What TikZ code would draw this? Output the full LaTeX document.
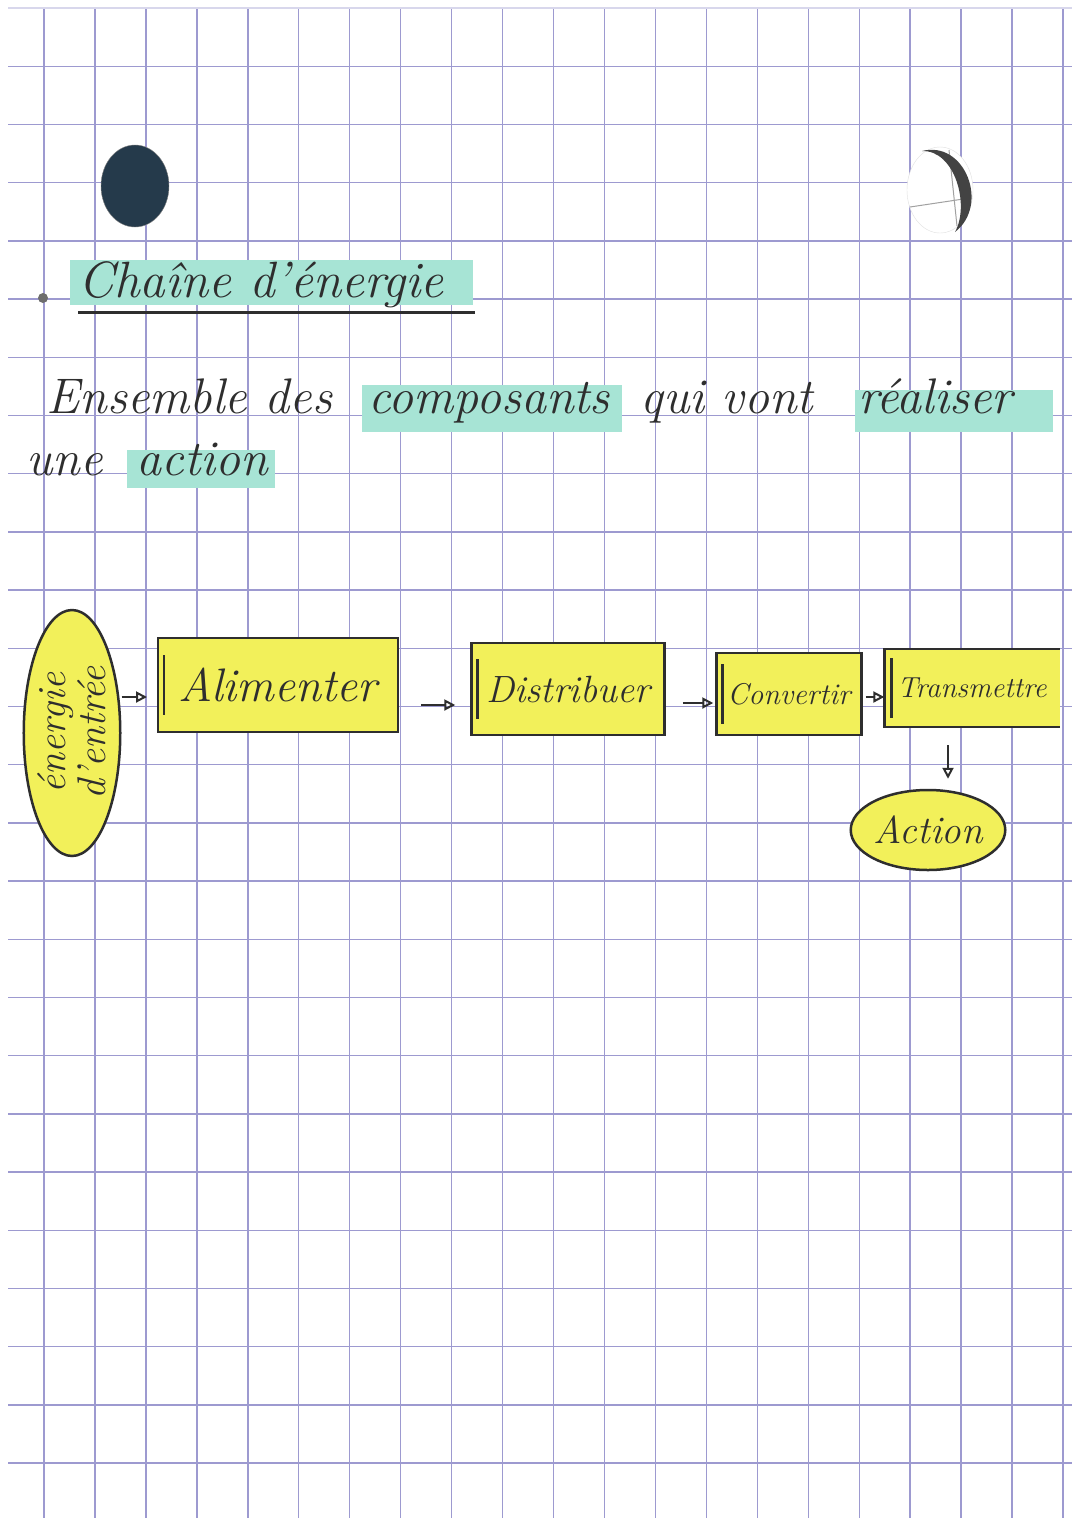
\documentclass[tikz,border=0pt]{standalone}
\usepackage{fontspec}
\usetikzlibrary{arrows.meta,shapes.geometric}
\definecolor{encre}{HTML}{2E2E2E}
\definecolor{quadrillage}{HTML}{9D9AD0}
\definecolor{surligneur}{HTML}{A7E4D5}
\definecolor{fluo}{HTML}{F2F05A}
\definecolor{trou}{HTML}{253A4B}
\newcommand{\taille}[1]{\fontsize{#1}{#1}\selectfont\itshape}

\begin{document}
\begin{tikzpicture}[x=1pt, y=-1pt,
    trait/.style={draw=encre, line width=2.5pt},
    fonction/.style={rectangle, fill=fluo, draw=encre, line width=2.5pt, inner sep=0pt, text=encre},
    bulle/.style={ellipse, fill=fluo, draw=encre, line width=2.5pt, inner sep=0pt, text=encre},
    fleche/.style={encre, line width=2.5pt, -{Triangle[open, length=11pt, width=11pt, line width=2pt]}},
    ecrit/.style={anchor=base west, text=encre, font=\taille{50}},
    grille/.style={quadrillage, line width=1.4pt}]
    % page of squared paper
    \useasboundingbox (0,0) rectangle (1080,1527);
    \fill[white] (0,0) rectangle (1080,1527);
    \foreach \i in {0,...,20}
        \draw[grille] (44+50.95*\i, 8) -- (44+50.95*\i, 1518);
    \foreach \j in {1,...,25}
        \draw[grille] (8, 8+58.2*\j) -- (1072, 8+58.2*\j);
    \draw[quadrillage!40, line width=1.2pt] (8,8) -- (1072,8);

    % punched holes
    \filldraw[fill=trou, draw=encre!60] (135,186) ellipse (34 and 41);
    \filldraw[fill=white, draw=encre!15] (940,190) ellipse (33 and 43);
    \draw[encre!45, line width=1pt] (910,207) -- (970,198);
    \draw[encre!45, line width=1pt] (949,150) -- (957,226);
    \fill[encre!90] (922,151) .. controls (965,140) and (990,205) .. (955,232)
        .. controls (970,205) and (955,150) .. (922,151) -- cycle;

    % title
    \fill[encre!70] (43,298) circle (5);
    \fill[surligneur] (70,260) rectangle (473,305);
    \node[ecrit, font=\taille{51}] (titre) at (75,297) {Chaîne d'énergie};
    \draw[encre, line width=3pt] (78,312) -- (475,312);

    % definition
    \fill[surligneur] (362,385) rectangle (622,432);
    \fill[surligneur] (855,390) rectangle (1053,432);
    \fill[surligneur] (127,450) rectangle (275,488);
    \node[ecrit] (ens) at (43,413) {Ensemble des};
    \node[ecrit] (comp) at (365,413) {composants};
    \node[ecrit] (qui) at (637,413) {qui vont};
    \node[ecrit] (real) at (855,413) {réaliser};
    \node[ecrit] (une) at (23,475) {une};
    \node[ecrit] (act) at (133,475) {action};

    % energy chain
    \node[bulle, rotate=90, minimum width=246pt, minimum height=94pt,
        align=center, font=\taille{40}] (enin) at (72,733) {énergie\\d'entrée};
    \node[fonction, minimum width=240pt, minimum height=94pt, font=\taille{47}] (alim) at (278,685) {Alimenter};
    \node[fonction, minimum width=193pt, minimum height=92pt, font=\taille{38}] (dist) at (568,689) {Distribuer};
    \node[fonction, minimum width=145pt, minimum height=82pt, font=\taille{30}] (conv) at (789,694) {Convertir};
    \node[rectangle, fill=fluo, inner sep=0pt, minimum width=175pt, minimum height=78pt,
        text=encre, font=\taille{29}] (trans) at (972,688) {Transmettre};
    \draw[trait] (trans.north east) -- (trans.north west) -- (trans.south west) -- (trans.south east);
    \node[bulle, minimum width=150pt, minimum height=80pt, font=\taille{39}] (action) at (928,830) {Action};

    % double left edges of the boxes
    \foreach \b in {alim,dist,conv,trans}
        \draw[trait] ([xshift=7pt]\b.west) ++(0,-30) -- ++(0,60);

    % arrows
    \draw[fleche] (enin.south |- 0,697) -- (147,697);
    \draw[fleche, shorten <=22pt, shorten >=15pt] (alim.east |- 0,705) -- (dist.west |- 0,705);
    \draw[fleche, shorten <=17pt, shorten >=2pt] (dist.east |- 0,703) -- (conv.west |- 0,703);
    \draw[fleche, shorten <=3pt] (conv.east |- 0,697) -- (trans.west |- 0,697);
    \draw[fleche, shorten <=18pt, shorten >=10pt] ([xshift=20pt]action.north |- trans.south) -- ([xshift=20pt]action.north);
\end{tikzpicture}
\end{document}
